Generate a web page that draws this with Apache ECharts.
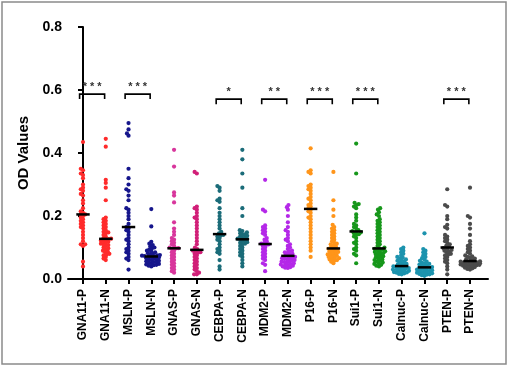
<!DOCTYPE html>
<html><head><meta charset="utf-8">
<script src="https://cdn.jsdelivr.net/npm/echarts/dist/echarts.min.js"></script>
<style>html,body{margin:0;padding:0;background:#fff}#c{width:509px;height:367px}</style>
</head><body><div id="c"></div>
<script>
const categories = ['GNA11-P','GNA11-N','MSLN-P','MSLN-N','GNAS-P','GNAS-N','CEBPA-P','CEBPA-N','MDM2-P','MDM2-N','P16-P','P16-N','Sui1-P','Sui1-N','Calnuc-P','Calnuc-N','PTEN-P','PTEN-N'];
const yTicks = [0, 0.2, 0.4, 0.6, 0.8];

const gna11P = [0.435,0.35,0.345,0.335,0.33,0.32,0.30,0.29,0.285,0.28,0.27,0.265,0.25,0.24,0.225,0.215,0.21,0.205,0.205,0.20,0.195,0.19,0.185,0.18,0.175,0.17,0.165,0.16,0.15,0.14,0.13,0.12,0.11,0.11,0.105,0.055,0.04];
const gna11N = [0.445,0.42,0.315,0.305,0.29,0.25,0.195,0.19,0.185,0.18,0.175,0.17,0.165,0.16,0.155,0.15,0.148,0.145,0.14,0.135,0.13,0.128,0.127,0.125,0.122,0.12,0.118,0.115,0.112,0.11,0.108,0.105,0.1,0.098,0.095,0.09,0.088,0.085,0.08,0.078,0.075,0.07,0.065,0.06];
const mslnP = [0.495,0.475,0.462,0.455,0.35,0.32,0.30,0.285,0.28,0.265,0.25,0.225,0.22,0.21,0.2,0.19,0.175,0.165,0.16,0.155,0.15,0.14,0.13,0.125,0.12,0.11,0.1,0.095,0.09,0.085,0.08,0.07,0.065,0.06,0.03];
const mslnN = [0.222,0.167,0.118,0.112,0.108,0.104,0.1,0.097,0.094,0.09,0.088,0.085,0.082,0.08,0.078,0.076,0.075,0.074,0.073,0.072,0.071,0.07,0.068,0.066,0.065,0.064,0.062,0.06,0.058,0.056,0.055,0.054,0.052,0.05,0.048,0.046,0.045,0.044,0.042,0.04];
const gnasP = [0.41,0.357,0.275,0.265,0.243,0.18,0.16,0.15,0.14,0.13,0.125,0.12,0.115,0.11,0.105,0.1,0.098,0.097,0.095,0.09,0.085,0.08,0.075,0.07,0.065,0.06,0.055,0.05,0.045,0.04,0.035,0.03,0.025,0.02];
const gnasN = [0.34,0.335,0.23,0.225,0.22,0.21,0.2,0.195,0.19,0.18,0.17,0.16,0.15,0.14,0.13,0.12,0.11,0.1,0.095,0.09,0.088,0.085,0.083,0.08,0.075,0.07,0.065,0.06,0.055,0.05,0.045,0.04,0.035,0.03,0.025,0.02,0.015,0.015];
const cebpaP = [0.295,0.29,0.28,0.255,0.25,0.245,0.225,0.21,0.2,0.19,0.18,0.17,0.16,0.15,0.145,0.14,0.138,0.135,0.13,0.125,0.12,0.11,0.1,0.095,0.09,0.085,0.08,0.06,0.04,0.03];
const cebpaN = [0.41,0.38,0.335,0.29,0.225,0.2,0.155,0.152,0.148,0.145,0.142,0.14,0.137,0.135,0.132,0.13,0.128,0.127,0.125,0.122,0.12,0.117,0.115,0.112,0.11,0.105,0.1,0.095,0.09,0.085,0.08,0.075,0.07,0.06,0.05,0.04];
const mdm2P = [0.315,0.22,0.215,0.17,0.165,0.16,0.155,0.15,0.145,0.14,0.13,0.125,0.12,0.115,0.112,0.11,0.108,0.105,0.1,0.095,0.09,0.085,0.08,0.075,0.07,0.065,0.06,0.05,0.045,0.025];
const mdm2N = [0.235,0.228,0.22,0.2,0.18,0.165,0.155,0.15,0.14,0.13,0.125,0.12,0.11,0.105,0.1,0.095,0.09,0.088,0.085,0.082,0.08,0.078,0.075,0.072,0.07,0.068,0.066,0.065,0.064,0.062,0.06,0.058,0.056,0.055,0.054,0.052,0.05,0.048,0.046,0.045,0.044,0.042,0.04,0.038,0.036,0.035];
const p16P = [0.415,0.345,0.34,0.335,0.30,0.295,0.29,0.285,0.28,0.27,0.26,0.255,0.25,0.24,0.235,0.23,0.225,0.22,0.215,0.21,0.2,0.195,0.19,0.18,0.17,0.16,0.15,0.14,0.13,0.12,0.11,0.1,0.09,0.07];
const p16N = [0.34,0.25,0.22,0.2,0.172,0.165,0.16,0.155,0.15,0.145,0.14,0.135,0.13,0.125,0.12,0.115,0.112,0.11,0.107,0.104,0.1,0.098,0.096,0.094,0.092,0.09,0.088,0.086,0.084,0.082,0.08,0.078,0.076,0.074,0.072,0.07,0.068,0.066,0.064,0.062,0.06,0.058,0.055,0.05];
const sui1P = [0.43,0.335,0.242,0.238,0.235,0.23,0.225,0.205,0.195,0.185,0.175,0.17,0.165,0.16,0.155,0.152,0.15,0.148,0.145,0.142,0.14,0.135,0.13,0.12,0.115,0.11,0.1,0.095,0.09,0.08,0.075,0.05];
const sui1N = [0.225,0.22,0.212,0.205,0.2,0.19,0.185,0.18,0.175,0.17,0.165,0.16,0.155,0.15,0.145,0.14,0.135,0.13,0.125,0.12,0.115,0.11,0.105,0.1,0.098,0.096,0.094,0.092,0.09,0.088,0.086,0.084,0.082,0.08,0.078,0.075,0.072,0.07,0.068,0.065,0.062,0.06,0.058,0.055,0.052,0.05,0.048,0.045,0.042,0.04];
const calnucP = [0.1,0.095,0.09,0.085,0.08,0.075,0.07,0.068,0.065,0.062,0.06,0.058,0.055,0.053,0.05,0.048,0.046,0.044,0.042,0.04,0.039,0.038,0.036,0.035,0.034,0.032,0.03,0.03,0.028,0.026,0.025,0.024,0.022,0.021,0.02,0.018,0.016,0.015];
const calnucN = [0.145,0.095,0.09,0.085,0.08,0.075,0.07,0.066,0.062,0.058,0.055,0.052,0.05,0.048,0.046,0.044,0.042,0.04,0.038,0.036,0.035,0.034,0.032,0.03,0.03,0.028,0.026,0.025,0.024,0.022,0.02,0.02,0.018,0.016,0.015,0.014,0.012,0.01];
const ptenP = [0.285,0.235,0.23,0.2,0.19,0.172,0.165,0.16,0.14,0.135,0.13,0.125,0.12,0.115,0.11,0.105,0.102,0.098,0.095,0.092,0.09,0.088,0.085,0.08,0.078,0.075,0.07,0.065,0.06,0.055,0.05,0.04,0.03,0.015];
const ptenN = [0.29,0.2,0.195,0.175,0.16,0.14,0.12,0.11,0.105,0.1,0.095,0.09,0.085,0.08,0.075,0.072,0.07,0.067,0.065,0.062,0.06,0.058,0.056,0.055,0.054,0.053,0.052,0.051,0.05,0.049,0.048,0.047,0.046,0.045,0.044,0.043,0.042,0.041,0.04,0.038,0.036,0.034,0.032,0.03];

const seriesValues = [gna11P,gna11N,mslnP,mslnN,gnasP,gnasN,cebpaP,cebpaN,mdm2P,mdm2N,p16P,p16N,sui1P,sui1N,calnucP,calnucN,ptenP,ptenN];
const colors = ['#ff2b2b','#ff2b2b','#16168c','#16168c','#d8369c','#d11f78','#1b6c79','#1b6c79','#b428e8','#b428e8','#ff951a','#ff951a','#17971b','#17971b','#1c93ae','#1c93ae','#4b4b4b','#4b4b4b'];

const sigLeft = [0, 2, 6, 8, 10, 12, 16];
const sigLabels = ['* * *','* * *','*','* *','* * *','* * *','* * *'];
const sigY = [0.587, 0.587, 0.571, 0.571, 0.571, 0.571, 0.571];

// layout
const W = 509, H = 367;
const gridMain = {left: 68, right: 21, top: 27, bottom: 88};
const firstC = 83, lastC = 470;
const pxX = (lastC - firstC) / (categories.length - 1);
const xMin = -(firstC - gridMain.left) / pxX;
const xMax = (categories.length - 1) + (W - gridMain.right - lastC) / pxX;
const gridCat = {left: firstC - pxX/2, right: W - lastC - pxX/2, top: 27, bottom: 88};
const pxY = (H - gridMain.top - gridMain.bottom) / 0.8;

function median(a){ const s=[...a].sort((x,y)=>x-y); const n=s.length; return n%2? s[(n-1)/2] : (s[n/2-1]+s[n/2])/2; }

function swarm(vals, i){
  const d = 2.7;
  const sorted = [...vals].sort((a,b)=>a-b);
  const placed = [];
  return sorted.map(v=>{
    const y = v*pxY;
    const near = placed.filter(p=>Math.abs(p[1]-y)<d);
    const cands=[0];
    near.forEach(p=>{const w=Math.sqrt(d*d-(p[1]-y)*(p[1]-y)); cands.push(p[0]-w-0.01, p[0]+w+0.01);});
    cands.sort((a,b)=>Math.abs(a)-Math.abs(b));
    let x=0;
    for(const c of cands){ if(near.every(p=>(p[0]-c)*(p[0]-c)+(p[1]-y)*(p[1]-y) >= d*d-0.001)){x=c;break;} }
    x = Math.max(-10, Math.min(10, x));
    placed.push([x,y]);
    return [i + x/pxX, v];
  });
}

const series = [];
seriesValues.forEach((vals,i)=>{
  series.push({type:'scatter', xAxisIndex:0, yAxisIndex:0, data: swarm(vals,i), symbolSize:4.2,
    itemStyle:{color:colors[i], opacity:1}, silent:true, z:2});
});
series.push({type:'custom', xAxisIndex:0, yAxisIndex:0, z:5, silent:true,
  data: seriesValues.map((v,i)=>[i, median(v)]),
  renderItem(params, api){
    const c = api.coord([api.value(0), api.value(1)]);
    const h = 6.7;
    return {type:'line', shape:{x1:c[0]-h,y1:c[1],x2:c[0]+h,y2:c[1]}, style:{stroke:'#000', lineWidth:2.5}};
  }
});
series.push({type:'custom', xAxisIndex:0, yAxisIndex:0, z:5, silent:true,
  data: sigLeft.map((l,k)=>[l, sigY[k], k]),
  renderItem(params, api){
    const l = api.value(0), y = api.value(1), k = api.value(2);
    const p1 = api.coord([l-0.15, y]), p2 = api.coord([l+0.95, y]);
    return {type:'group', children:[
      {type:'polyline', shape:{points:[[p1[0],p1[1]+5],[p1[0],p1[1]],[p2[0],p2[1]],[p2[0],p2[1]+5]]}, style:{stroke:'#000', lineWidth:1.6, fill:null}},
      {type:'text', style:{text: sigLabels[k], x:(p1[0]+p2[0])/2, y:p1[1]-7, align:'center', verticalAlign:'middle', font:'bold 11px "Liberation Sans", Arial', fill:'#333'}}
    ]};
  }
});

const chart = echarts.init(document.getElementById('c'), null, {renderer:'canvas'});
chart.setOption({
  animation:false,
  backgroundColor:'#fff',
  grid: [gridMain, gridCat],
  graphic:[{type:'rect', shape:{x:2, y:2, width:504, height:362}, style:{fill:null, stroke:'#8a8a8a', lineWidth:1.5}, silent:true}],
  xAxis:[
    {type:'value', gridIndex:0, min:xMin, max:xMax, position:'bottom',
      axisLine:{show:true, onZero:false, lineStyle:{color:'#000', width:2}},
      axisTick:{show:false}, axisLabel:{show:false}, splitLine:{show:false}},
    {type:'category', gridIndex:1, data:categories, boundaryGap:true,
      axisLine:{show:false, onZero:false},
      axisTick:{show:true, alignWithLabel:true, length:5, lineStyle:{color:'#000', width:2}},
      axisLabel:{rotate:90, interval:0, color:'#000', fontWeight:'bold', fontSize:12, fontFamily:'"Liberation Sans", Arial', margin:10},
      splitLine:{show:false}}
  ],
  yAxis:[
    {type:'value', gridIndex:0, min:yTicks[0], max:yTicks[yTicks.length-1], interval:0.2,
      name:'OD Values', nameLocation:'middle', nameGap:33,
      nameTextStyle:{color:'#000', fontSize:15, fontWeight:'bold', fontFamily:'"Liberation Sans", Arial'},
      axisLine:{show:true, lineStyle:{color:'#000', width:2}},
      axisTick:{show:true, length:5, lineStyle:{color:'#000', width:2}},
      axisLabel:{color:'#000', fontWeight:'bold', fontSize:14, fontFamily:'"Liberation Sans", Arial', margin:6, formatter:v=>v.toFixed(1)},
      splitLine:{show:false}},
    {type:'value', gridIndex:1, min:0, max:0.8, show:false}
  ],
  series: series
});
</script></body></html>
